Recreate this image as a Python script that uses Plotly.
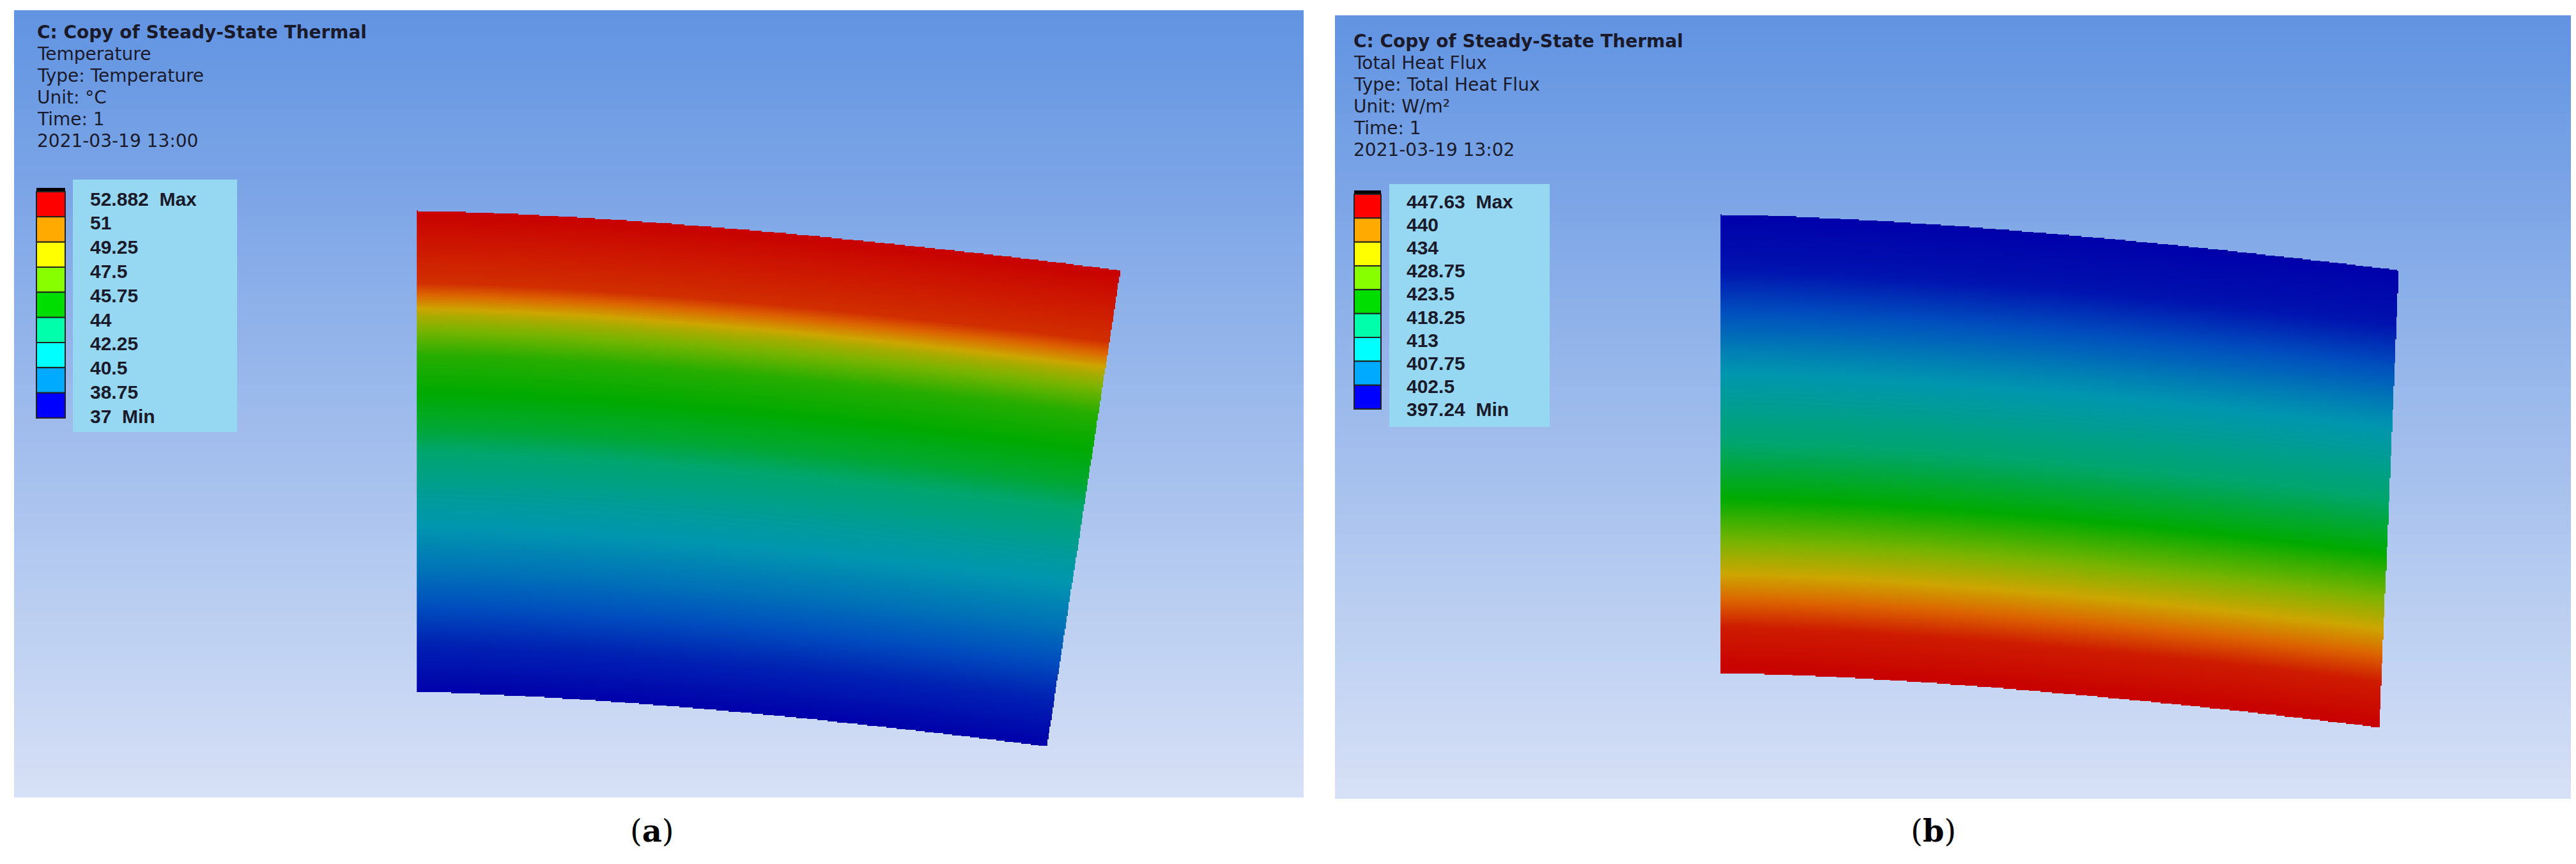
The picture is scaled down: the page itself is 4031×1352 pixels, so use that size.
import numpy as np
import plotly.graph_objects as go

# ---- data ----
temp_levels = ["52.882  Max", "51", "49.25", "47.5", "45.75", "44", "42.25", "40.5", "38.75", "37  Min"]
flux_levels = ["447.63  Max", "440", "434", "428.75", "423.5", "418.25", "413", "407.75", "402.5", "397.24  Min"]
legend_colors = ["#ff0000", "#ffaa00", "#ffff00", "#88ff00", "#00dd00", "#00ffaa", "#00ffff", "#00aaff", "#0000ff"]
header_a = ["<b>C: Copy of Steady-State Thermal</b>", "Temperature", "Type: Temperature", "Unit: °C", "Time: 1", "2021-03-19 13:00"]
header_b = ["<b>C: Copy of Steady-State Thermal</b>", "Total Heat Flux", "Type: Total Heat Flux", "Unit: W/m²", "Time: 1", "2021-03-19 13:02"]
temp_depth = [0, 0.15, 0.22, 0.3, 0.45, 0.6, 0.75, 0.9, 1.0]
temp_vals = [52.88, 52.0, 49.0, 46.5, 45.0, 42.5, 40.5, 38.0, 37.0]
flux_depth = [0, 0.12, 0.3, 0.5, 0.62, 0.72, 0.82, 0.9, 1.0]
flux_vals = [397.24, 399.0, 410.0, 420.0, 425.0, 433.0, 440.0, 446.0, 447.63]

W, H = 4031, 1352
cs = [[0, "rgb(0,0,170)"], [0.15, "rgb(0,80,190)"], [0.3, "rgb(0,150,175)"], [0.45, "rgb(0,165,110)"],
      [0.55, "rgb(0,170,0)"], [0.7, "rgb(120,180,0)"], [0.8, "rgb(205,165,0)"], [0.88, "rgb(220,100,0)"],
      [1, "rgb(200,0,0)"]]

fig = go.Figure()

def bg(x0, x1, y0, y1):
    n = 80
    ye = np.linspace(y0, y1, n + 1)
    z = np.linspace(0, 1, n).reshape(n, 1)
    fig.add_trace(go.Heatmap(x=[x0, x1], y=ye, z=z,
                             colorscale=[[0, "rgb(98,148,226)"], [1, "rgb(214,224,246)"]],
                             showscale=False, hoverinfo="skip"))

bg(14, 2032, 8, 1240)
bg(2081, 4025, 16, 1242)

def field(xl, xrt, xrb, yt0, yt1, yb0, yb1, depth, vals, vmin, vmax):
    xs = np.linspace(xl, max(xrt, xrb), 700)
    ys = np.linspace(min(yt0, yt1), max(yb0, yb1), 500)
    X, Y = np.meshgrid(xs, ys)
    s = np.zeros_like(X)
    for _ in range(6):
        xr = xrt + (xrb - xrt) * np.clip(s, 0, 1)
        t = (X - xl) / (xr - xl)
        tc = np.clip(t, 0, 1)
        ytop = yt0 + (yt1 - yt0) * tc ** 1.5
        ybot = yb0 + (yb1 - yb0) * tc ** 1.5
        s = (Y - ytop) / (ybot - ytop)
    Z = np.interp(s, depth, vals)
    Z[(t < 0) | (t > 1) | (s < 0) | (s > 1)] = np.nan
    fig.add_trace(go.Heatmap(x=xs, y=ys, z=Z, colorscale=cs, zmin=vmin, zmax=vmax,
                             showscale=False, hoverinfo="skip"))

field(645, 1745, 1630, 322, 415, 1075, 1160, temp_depth, temp_vals, 37, 52.882)
field(2685, 3745, 3715, 328, 415, 1045, 1130, flux_depth, flux_vals, 397.24, 447.63)

def legend(hx, hy, sx0, sx1, sy0, sy1, bx0, bx1, by0, by1, ly0, lstep, labels, header):
    for i, h in enumerate(header):
        fig.add_annotation(x=hx, y=hy + i * 34, text=h, showarrow=False, xanchor="left", yanchor="middle",
                           font=dict(family="DejaVu Sans", size=28, color="#1a1a2a"))
    fig.add_shape(type="rect", x0=bx0, x1=bx1, y0=by0, y1=by1, fillcolor="rgb(150,216,242)", line_width=0, layer="above")
    fig.add_shape(type="rect", x0=sx0, x1=sx1, y0=sy0 - 6, y1=sy0, fillcolor="black", line_width=0, layer="above")
    n = len(legend_colors)
    step = (sy1 - sy0) / n
    for i, c in enumerate(legend_colors):
        fig.add_shape(type="rect", x0=sx0, x1=sx1, y0=sy0 + i * step, y1=sy0 + (i + 1) * step,
                      fillcolor=c, line=dict(color="#222", width=2), layer="above")
    for i, l in enumerate(labels):
        fig.add_annotation(x=bx0 + 25, y=ly0 + i * lstep, text="<b>" + l + "</b>", showarrow=False,
                           xanchor="left", yanchor="middle",
                           font=dict(family="Liberation Sans", size=30, color="#1a1a2a"))

legend(48, 42, 49, 94, 292, 646, 106, 363, 273, 668, 303, 37.8, temp_levels, header_a)
legend(2108, 56, 2111, 2153, 296, 632, 2166, 2417, 280, 660, 307, 36.2, flux_levels, header_b)

fig.add_annotation(x=1012, y=1292, text="(<b>a</b>)", showarrow=False,
                   font=dict(family="DejaVu Serif", size=48, color="black"))
fig.add_annotation(x=3017, y=1292, text="(<b>b</b>)", showarrow=False,
                   font=dict(family="DejaVu Serif", size=48, color="black"))

fig.update_layout(width=W, height=H, margin=dict(l=0, r=0, t=0, b=0),
                  paper_bgcolor="white", plot_bgcolor="white", showlegend=False,
                  xaxis=dict(range=[0, W], visible=False, fixedrange=True),
                  yaxis=dict(range=[H, 0], visible=False, fixedrange=True))
fig.write_html("out.html")
